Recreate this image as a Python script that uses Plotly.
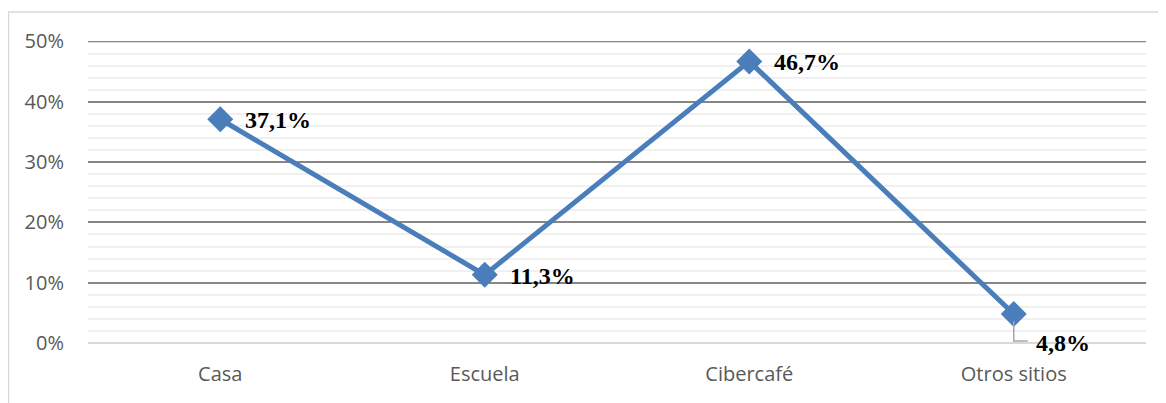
import plotly.graph_objects as go

categories = ["Casa", "Escuela", "Cibercafé", "Otros sitios"]
values = [0.371, 0.113, 0.467, 0.048]
labels = ["37,1%", "11,3%", "46,7%", "4,8%"]
y_ticks = [0, 0.1, 0.2, 0.3, 0.4, 0.5]
y_ticktext = ["0%", "10%", "20%", "30%", "40%", "50%"]

LINE_COLOR = "#4a7ebb"

fig = go.Figure()
fig.add_trace(go.Scatter(
    x=categories, y=values, mode="lines+markers",
    line=dict(color=LINE_COLOR, width=5),
    marker=dict(symbol="diamond", size=20, color=LINE_COLOR),
    hoverinfo="skip", showlegend=False,
))

annotations = []
shapes = []
for i, (c, v, t) in enumerate(zip(categories, values, labels)):
    if i == len(categories) - 1:
        annotations.append(dict(x=c, y=v, text=f"<b>{t}</b>", showarrow=False,
                                xanchor="left", yanchor="middle", xshift=20, yshift=-29,
                                font=dict(family="Liberation Serif", size=24, color="#000000")))
        shapes.append(dict(type="path", xref="x", yref="y", xsizemode="pixel", ysizemode="pixel",
                           xanchor=i, yanchor=v, path="M 0,-7 L 0,-27 L 14,-27",
                           line=dict(color="#a6a6a6", width=1.5)))
    else:
        annotations.append(dict(x=c, y=v, text=f"<b>{t}</b>", showarrow=False,
                                xanchor="left", yanchor="middle", xshift=23, yshift=-1,
                                font=dict(family="Liberation Serif", size=24, color="#000000")))

# top major gridline (at the edge of the range)
shapes.append(dict(type="line", xref="paper", yref="y", x0=0, x1=1, y0=y_ticks[-1], y1=y_ticks[-1],
                   line=dict(color="#868686", width=1.5), layer="below"))

# outer chart border
shapes.append(dict(type="rect", xref="paper", yref="paper", x0=-0.0751, x1=1.2, y0=-0.5, y1=1.096,
                   line=dict(color="#d9d9d9", width=1.5), fillcolor="rgba(0,0,0,0)", layer="below"))

fig.update_layout(
    width=1166, height=403,
    margin=dict(l=80, r=28, t=33, b=68),
    paper_bgcolor="white", plot_bgcolor="white",
    font=dict(family="Open Sans", size=20, color="#595959"),
    annotations=annotations, shapes=shapes,
    xaxis=dict(showgrid=False, showline=False, ticks="", zeroline=False,
               tickfont=dict(size=20, color="#595959"), ticklabelstandoff=17,
               range=[-0.5, 3.5]),
    yaxis=dict(range=[0, 0.5008], tickvals=y_ticks, ticktext=y_ticktext,
               showgrid=True, gridcolor="#868686", gridwidth=1.5,
               zeroline=True, zerolinecolor="#d9d9d9", zerolinewidth=1.5,
               showline=False, ticks="", ticklabelstandoff=23,
               tickfont=dict(size=20, color="#595959"),
               minor=dict(dtick=0.02, showgrid=True, gridcolor="#f0f0f0", gridwidth=1.5)),
)

fig.write_html("out.html")
